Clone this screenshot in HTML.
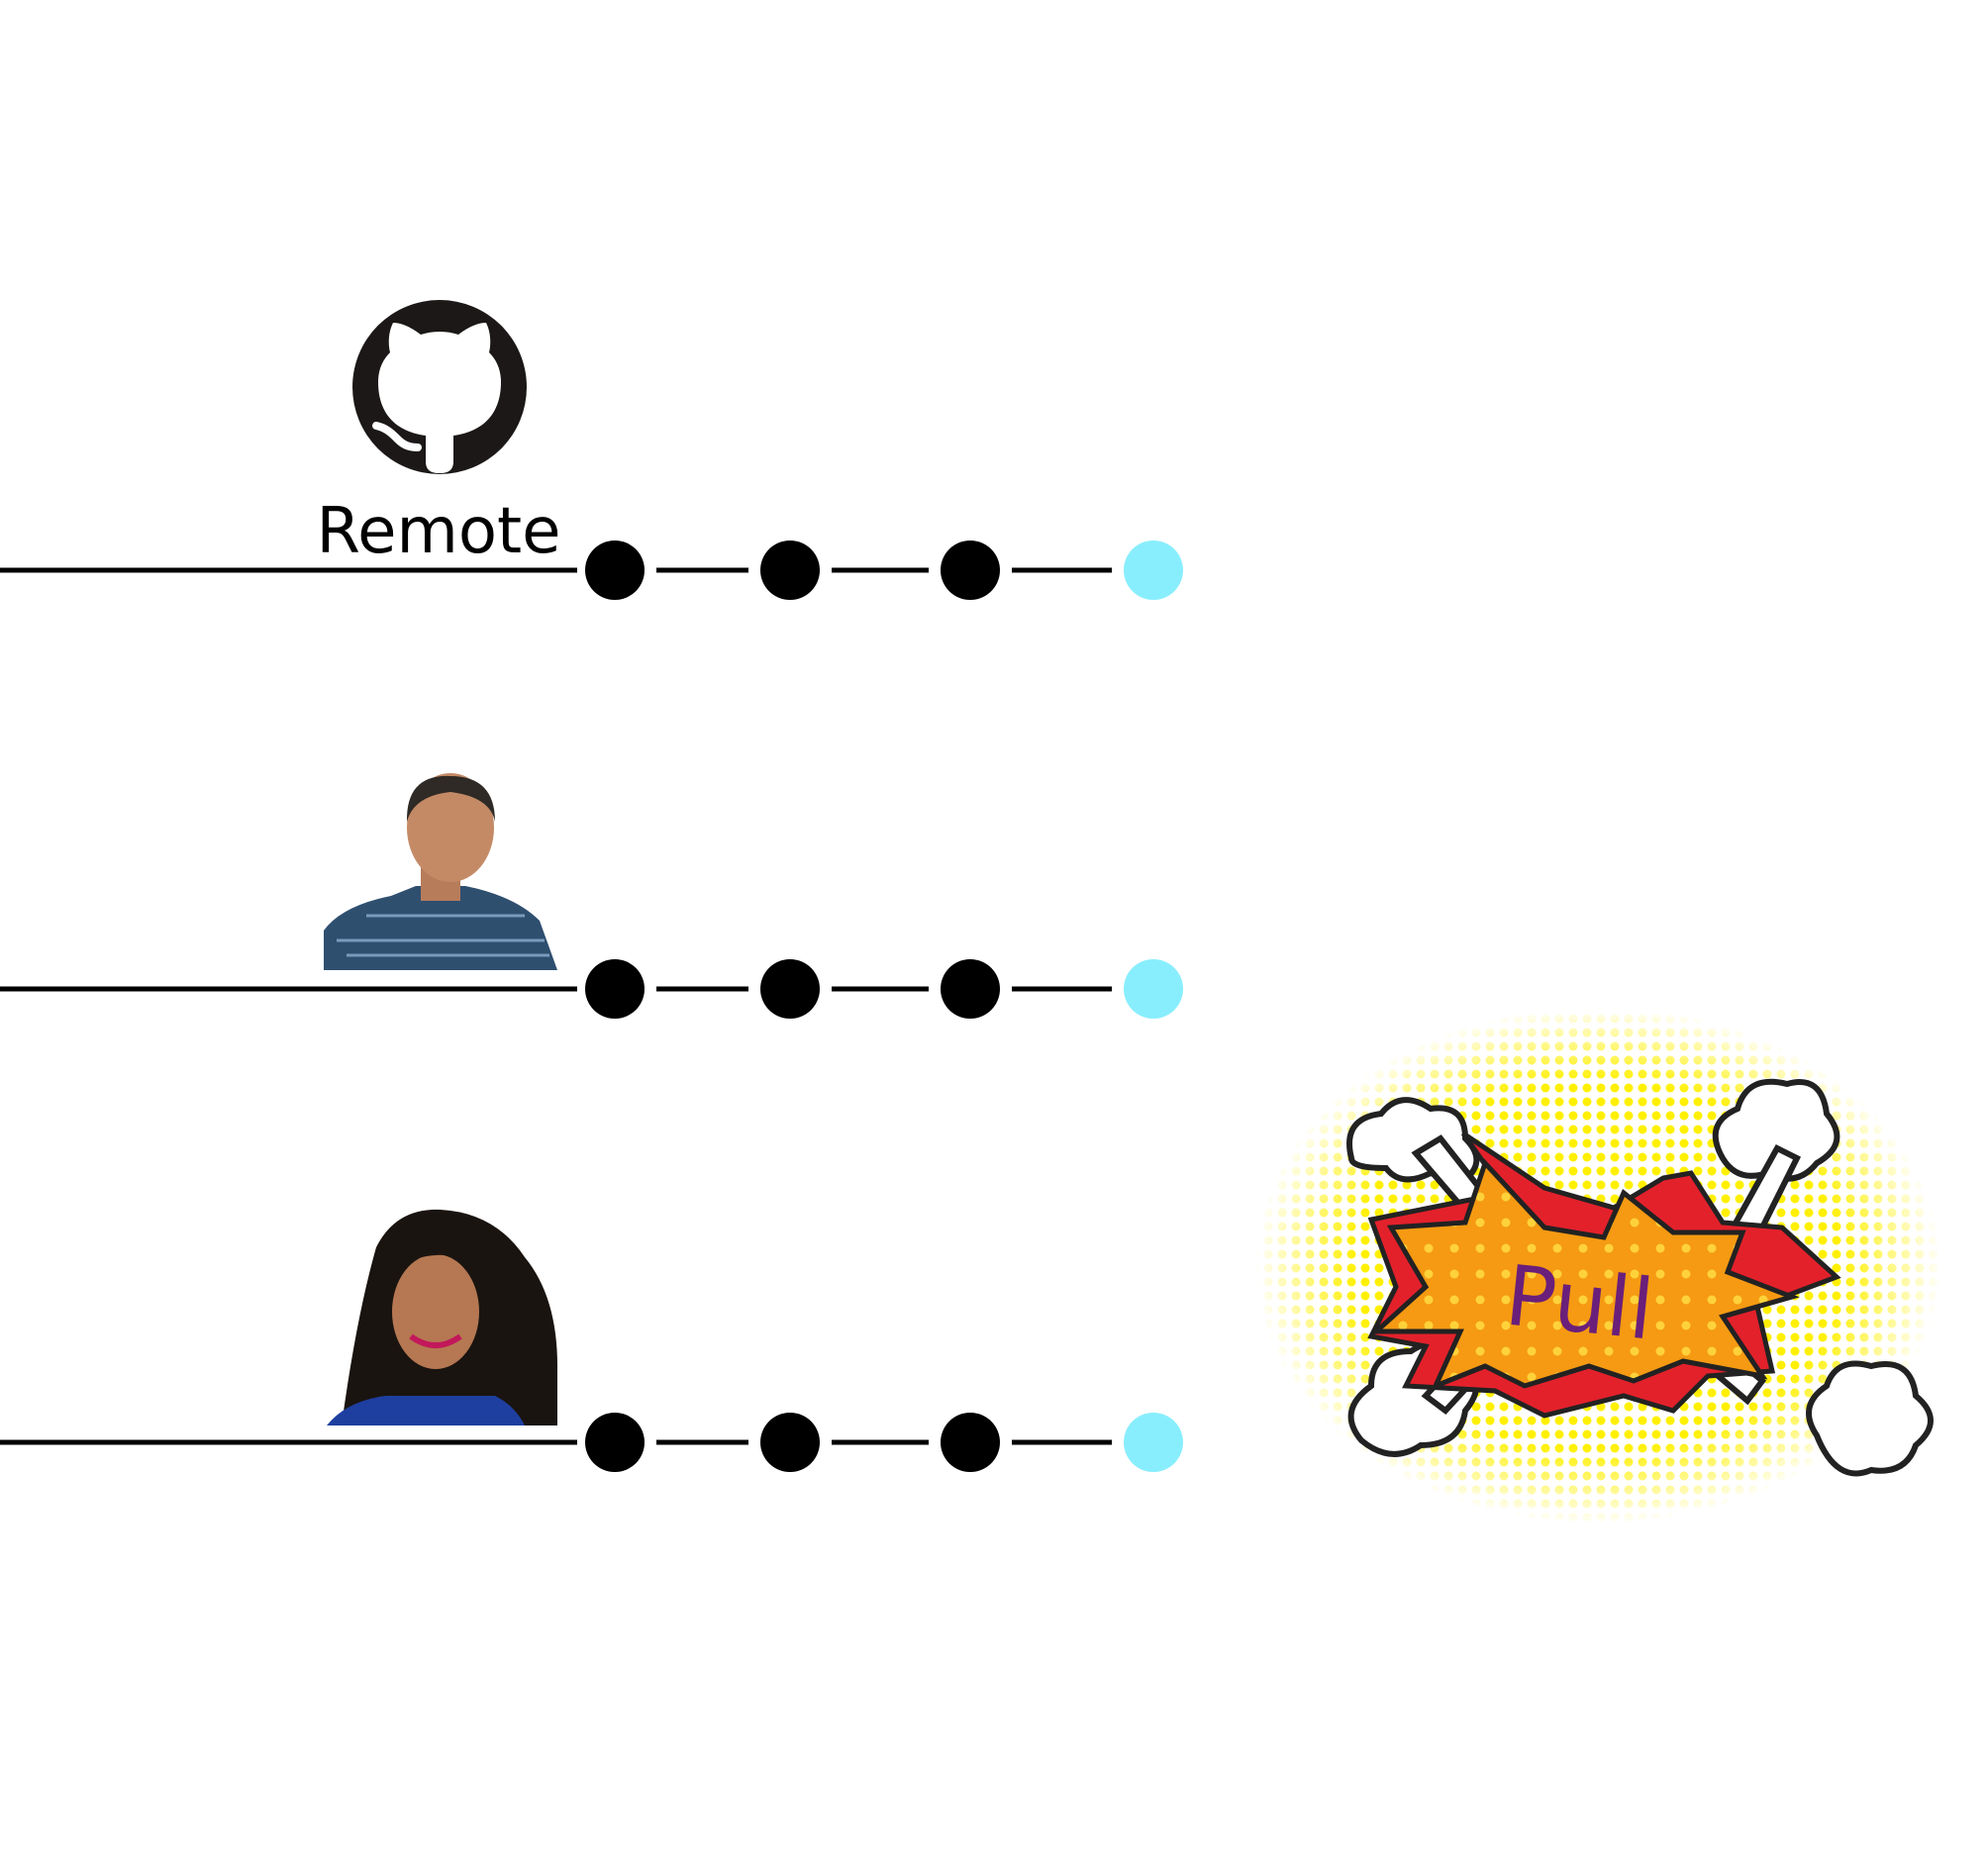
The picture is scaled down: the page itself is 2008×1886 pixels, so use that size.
<!DOCTYPE html>
<html>
<head>
<meta charset="utf-8">
<style>
  html,body{margin:0;padding:0;background:#fff;}
  svg{display:block;}
</style>
</head>
<body>
<svg id="chart" width="2008" height="1886" viewBox="0 0 2008 1886" xmlns="http://www.w3.org/2000/svg">
  <defs>
    <pattern id="halftone" width="14" height="14" patternUnits="userSpaceOnUse">
      <circle cx="7" cy="7" r="4.5" fill="#fff000"/>
    </pattern>
    <pattern id="orangedots" width="26" height="26" patternUnits="userSpaceOnUse">
      <rect width="26" height="26" fill="#f59a12"/>
      <circle cx="13" cy="13" r="4.5" fill="#ffd23a"/>
    </pattern>
    <radialGradient id="fade" cx="50%" cy="50%" r="50%">
      <stop offset="0.7" stop-color="#fff" stop-opacity="0"/>
      <stop offset="1" stop-color="#fff" stop-opacity="1"/>
    </radialGradient>
  </defs>

  <g>
    <circle cx="444" cy="391" r="88" fill="#1b1817"/>
    <path d="M444 478 c-10 0 -14 -4 -14 -12 v-26 c-30 -4 -48 -22 -48 -54 c0 -12 4 -22 12 -30 c-2 -8 -2 -20 3 -30 c10 0 20 6 28 12 c12 -4 26 -4 38 0 c8 -6 18 -12 28 -12 c5 10 5 22 3 30 c8 8 12 18 12 30 c0 32 -18 50 -48 54 v26 c0 8 -4 12 -14 12 z" fill="#fff"/>
    <path d="M380 430 c10 2 16 8 22 14 c6 6 12 8 20 8" stroke="#fff" stroke-width="8" fill="none" stroke-linecap="round"/>
  </g>
  <text x="443" y="558" font-family="'DejaVu Sans','Liberation Sans',sans-serif" font-size="64" text-anchor="middle" fill="#000">Remote</text>

  <g>
    <path d="M327 980 L327 940 Q345 915 395 905 L420 895 L470 895 Q520 905 545 930 L563 980 Z" fill="#2f4f6f"/>
    <path d="M340 950 L550 950 M350 965 L555 965 M370 925 L530 925" stroke="#7a9abb" stroke-width="3"/>
    <rect x="425" y="875" width="40" height="35" fill="#b77c5a"/>
    <ellipse cx="455" cy="836" rx="44" ry="55" fill="#c48a66"/>
    <path d="M411 830 Q410 782 455 784 Q500 784 500 830 Q495 805 455 800 Q418 804 411 830 Z" fill="#2f2a25"/>
  </g>

  <g>
    <path d="M345 1440 Q360 1330 380 1260 Q400 1220 445 1222 Q500 1225 530 1270 Q563 1310 563 1380 L563 1440 Z" fill="#1a1410"/>
    <path d="M330 1440 Q350 1415 390 1410 L500 1410 Q520 1420 530 1440 Z" fill="#1e3fa0"/>
    <ellipse cx="440" cy="1325" rx="44" ry="58" fill="#b57852"/>
    <path d="M415 1350 Q440 1368 465 1350" stroke="#c2185b" stroke-width="6" fill="none"/>
    <path d="M380 1300 Q400 1240 445 1245 Q490 1250 495 1300 Q470 1265 440 1268 Q405 1270 380 1300 Z" fill="#1a1410"/>
  </g>

  <g id="branches"></g>

  <g>
    <ellipse cx="1614" cy="1278" rx="345" ry="260" fill="url(#halftone)"/>
    <ellipse cx="1614" cy="1278" rx="347" ry="262" fill="url(#fade)"/>
    <g fill="#fff" stroke="#222" stroke-width="6">
      <path d="M1365 1170 q-10 -40 30 -45 q20 -25 50 -5 q35 -5 35 30 q25 25 -5 45 l-30 -10 q-30 15 -45 -5 q-35 0 -35 -10z"/>
      <path d="M1740 1170 q-20 -35 15 -50 q10 -35 50 -25 q35 -10 40 30 q25 30 -10 50 q-20 25 -50 10 q-30 10 -45 -15z"/>
      <path d="M1375 1455 q-25 -30 10 -55 q0 -35 40 -35 q30 -20 50 10 q30 20 5 50 q-5 35 -45 35 q-30 20 -60 -5z"/>
      <path d="M1835 1450 q-20 -30 10 -50 q10 -30 45 -20 q40 -10 45 30 q30 25 0 50 q-10 30 -45 25 q-35 15 -55 -35z"/>
      <path d="M1430 1165 l60 70 l20 -15 l-55 -70z"/>
      <path d="M1795 1160 l-50 90 l25 10 l45 -90z"/>
      <path d="M1440 1410 l60 -65 l20 15 l-60 65z"/>
      <path d="M1780 1395 l-65 -55 l-15 20 l65 55z"/>
    </g>
    <path d="M1385 1232 L1520 1205 L1478 1145 L1560 1200 L1630 1220 L1680 1190 L1708 1185 L1740 1235 L1800 1240 L1855 1290 L1775 1320 L1790 1385 L1725 1390 L1690 1425 L1640 1410 L1560 1430 L1510 1405 L1420 1400 L1440 1360 L1385 1350 L1410 1300 Z" fill="#e3212b" stroke="#222" stroke-width="5"/>
    <path d="M1405 1240 L1480 1235 L1500 1175 L1560 1240 L1620 1250 L1640 1205 L1690 1245 L1760 1245 L1745 1285 L1810 1310 L1740 1330 L1780 1390 L1700 1375 L1650 1395 L1605 1380 L1540 1400 L1500 1380 L1450 1400 L1475 1345 L1390 1345 L1440 1300 Z" fill="url(#orangedots)" stroke="#222" stroke-width="5"/>
    <text x="1595" y="1345" transform="rotate(6 1595 1320)" font-family="'DejaVu Sans','Liberation Sans',sans-serif" font-size="84" text-anchor="middle" fill="#6a1f7a">Pull</text>
  </g>

<script>
const rows = ["remote", "collaborator-1", "collaborator-2"];
const rowY = [576, 999, 1457];
const commits = [1, 2, 3, 4];
const newCommit = [false, false, false, true];

const NS = "http://www.w3.org/2000/svg";
const g = document.getElementById("branches");
function xScale(c){ return [621, 798, 980, 1165][c - 1]; }
const xs = commits.map(c => xScale(c));

rows.forEach((r, ri) => {
  const y = rowY[ri];
  const base = document.createElementNS(NS, "line");
  base.setAttribute("x1", 0); base.setAttribute("x2", 583);
  base.setAttribute("y1", y); base.setAttribute("y2", y);
  base.setAttribute("stroke", "#000"); base.setAttribute("stroke-width", 5);
  
  
  g.appendChild(base);
  commits.forEach((c, ci) => {
    if (ci > 0) {
      const seg = document.createElementNS(NS, "line");
      seg.setAttribute("x1", xs[ci-1] + 42); seg.setAttribute("x2", xs[ci] - 42);
      seg.setAttribute("y1", y); seg.setAttribute("y2", y);
      seg.setAttribute("stroke", "#000"); seg.setAttribute("stroke-width", 5);
      
      
      g.appendChild(seg);
    }
    const dot = document.createElementNS(NS, "circle");
    dot.setAttribute("cx", xs[ci]); dot.setAttribute("cy", y); dot.setAttribute("r", 30);
    dot.setAttribute("fill", newCommit[ci] ? "#88eefd" : "#000");
    
    
    g.appendChild(dot);
  });
});
</script>
</svg>
</body>
</html>
